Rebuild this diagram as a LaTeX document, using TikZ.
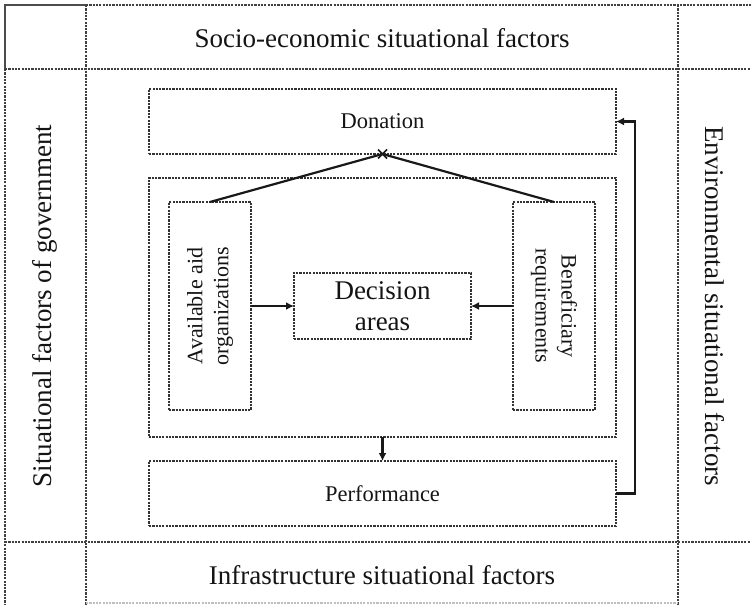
\documentclass[tikz,border=0pt]{standalone}
\usepackage{fontspec}
\setmainfont{Liberation Serif}
\usetikzlibrary{arrows.meta}
\begin{document}
\begin{tikzpicture}[x=1pt,y=-1pt,
  gridline/.style={draw=black!75, line width=1.4pt, dash pattern=on 2.2pt off 1.1pt},
  framebox/.style={draw=black!80, line width=1.4pt, dash pattern=on 2.2pt off 1.1pt,
    inner sep=0pt, outer sep=0pt},
  link/.style={draw=black!90, line width=2.2pt},
  arrow/.style={link, -{Latex[length=8pt,width=8pt]}},
  big/.style={font=\fontsize{27}{31}\selectfont, text=black!92, align=center},
  mid/.style={font=\fontsize{22.5}{26}\selectfont, text=black!92, align=center},
  small/.style={font=\fontsize{22}{26}\selectfont, text=black!92, align=center},
]
\useasboundingbox (0,0) rectangle (751,605);

% outer grid of situational factors
\draw[draw=black!70, line width=1.5pt] (5,69) -- (5,5) -- (86,5);
\draw[gridline] (86,5) -- (751,5);
\draw[gridline] (5,69) -- (5,605);
\draw[gridline] (86,5) -- (86,605);
\draw[gridline] (678,5) -- (678,605);
\draw[gridline] (5,69) -- (751,69);
\draw[gridline] (5,542) -- (751,542);
\draw[gridline, draw=black!25] (86,603) -- (678,603);

\node[big] (socio) at (382,38) {Socio-economic situational factors};
\node[big] (infra) at (382,575) {Infrastructure situational factors};
\node[big, rotate=90] (gov) at (45,306) {Situational factors of government};
\node[big, rotate=-90] (env) at (715,306) {Environmental situational factors};

% decision model
\node[framebox, mid, minimum width=467pt, minimum height=65pt] (don) at (382.5,121.5) {Donation};
\node[framebox, minimum width=467pt, minimum height=259pt] (ctx) at (382.5,307.5) {};
\node[framebox, minimum width=82pt, minimum height=208pt] (aid) at (210,306) {};
\node[framebox, minimum width=82pt, minimum height=208pt] (ben) at (554,306) {};
\node[small, rotate=90] (aidtext) at (aid.center) {Available aid\\organizations};
\node[small, rotate=-90] (bentext) at (ben.center) {Beneficiary\\requirements};
\node[framebox, big, minimum width=177pt, minimum height=66pt] (dec) at (382.5,306) {Decision\\areas};
\node[framebox, mid, minimum width=467pt, minimum height=65pt] (perf) at (382.5,493.5) {Performance};

% connectors
\coordinate (apex) at (don.south);
\draw[link] (aid.north) -- (apex);
\draw[link] (ben.north) -- (apex);
\draw[link, line width=1.6pt] ([shift={(-4.5,-4.5)}]apex) -- ([shift={(4.5,4.5)}]apex);
\draw[link, line width=1.6pt] ([shift={(-4.5,4.5)}]apex) -- ([shift={(4.5,-4.5)}]apex);
\draw[arrow] (aid.east) -- (dec.west);
\draw[arrow] (ben.west) -- (dec.east);
\draw[arrow] (ctx.south) -- (perf.north);
\draw[arrow] (perf.east) -- ++(19,0) |- (don.east);
\end{tikzpicture}
\end{document}
